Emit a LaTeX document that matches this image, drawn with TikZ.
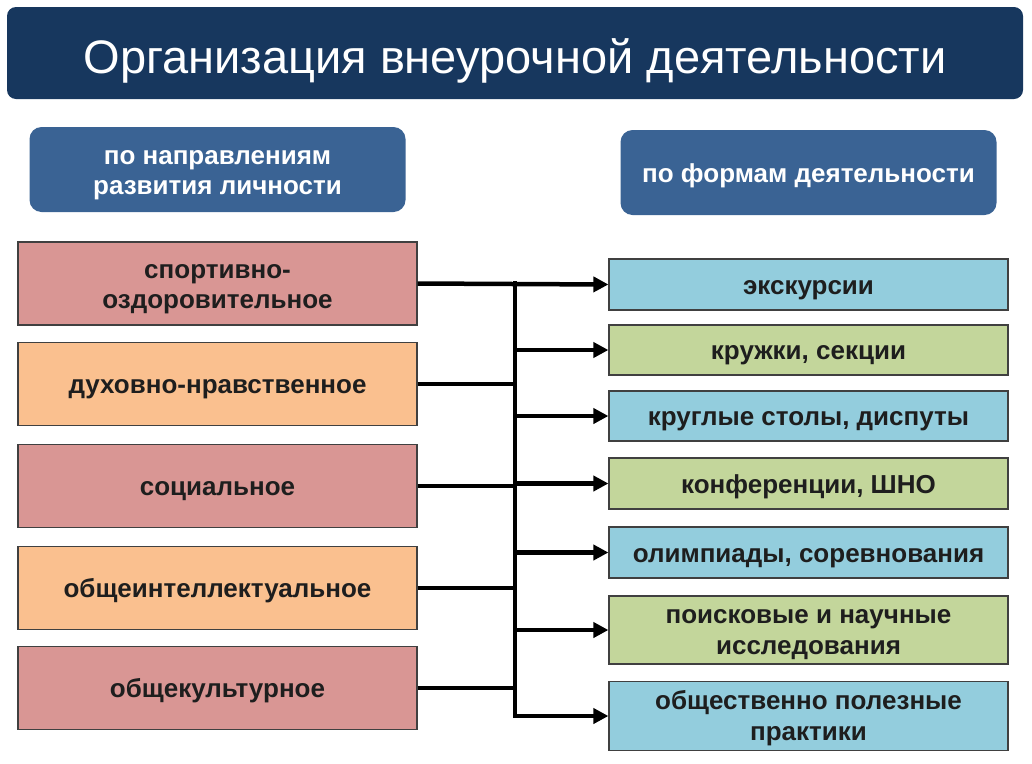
\documentclass[tikz,border=0pt]{standalone}
\usepackage{fontspec}
\setmainfont{Liberation Sans}
\usetikzlibrary{arrows.meta}
\definecolor{navy}{HTML}{17375E}
\definecolor{hdr}{HTML}{3A6394}
\definecolor{pinkc}{HTML}{D99694}
\definecolor{peachc}{HTML}{FAC08F}
\definecolor{bluec}{HTML}{93CDDD}
\definecolor{greenc}{HTML}{C3D69B}
\definecolor{txt}{HTML}{1E1E1E}
\tikzset{
  titlebox/.style={fill=navy, rounded corners=9pt, minimum width=1016pt, minimum height=92pt, inner sep=0pt},
  titletext/.style={text=white, font=\fontsize{47}{52}\selectfont, inner sep=0pt},
  oneline/.style={text height=22pt, text depth=3pt},
  twoline/.style={text height=52pt, text depth=3pt},
  hdrbox/.style={fill=hdr, rounded corners=12pt, minimum width=376pt, minimum height=85pt, text=white, font=\bfseries\fontsize{26}{30}\selectfont, align=center, inner sep=0pt, oneline},
  lbox/.style={draw=black!75, line width=1.2pt, minimum width=399pt, minimum height=83pt, text=txt, font=\bfseries\fontsize{26}{30}\selectfont, align=center, inner sep=0pt, oneline},
  rbox/.style={draw=black!75, line width=1.2pt, minimum width=399pt, text=txt, font=\bfseries\fontsize{26}{31}\selectfont, align=center, inner sep=0pt, oneline},
  conn/.style={line width=4.5pt, black},
  arr/.style={line width=4.5pt, black, -{Triangle[length=15pt,width=15pt]}}
}
\begin{document}
\begin{tikzpicture}[x=1pt,y=-1pt]
\useasboundingbox (0,0) rectangle (1032,763);
\node[titlebox] (title) at (515,53) {};
\node[titletext, anchor=base] (tt) at (515,73) {Организация внеурочной деятельности};
\node[hdrbox, twoline] (h1) at (217.5,169.5) {по направлениям\\развития личности};
\node[hdrbox] (h2) at (808.5,172.5) {по формам деятельности};

\node[lbox, fill=pinkc, twoline] (l1) at (217.5,283.5) {спортивно-\\оздоровительное};
\node[lbox, fill=peachc] (l2) at (217.5,384) {духовно-нравственное};
\node[lbox, fill=pinkc] (l3) at (217.5,486) {социальное};
\node[lbox, fill=peachc] (l4) at (217.5,588) {общеинтеллектуальное};
\node[lbox, fill=pinkc] (l5) at (217.5,688) {общекультурное};

\node[rbox, fill=bluec, minimum height=51pt] (r1) at (808.5,284.5) {экскурсии};
\node[rbox, fill=greenc, minimum height=50pt] (r2) at (808.5,350) {кружки, секции};
\node[rbox, fill=bluec, minimum height=50pt] (r3) at (808.5,416) {круглые столы, диспуты};
\node[rbox, fill=greenc, minimum height=51pt] (r4) at (808.5,483.5) {конференции, ШНО};
\node[rbox, fill=bluec, minimum height=51pt] (r5) at (808.5,552.5) {олимпиады, соревнования};
\node[rbox, fill=greenc, minimum height=68pt, twoline] (r6) at (808.5,630) {поисковые и научные\\исследования};
\node[rbox, fill=bluec, minimum height=69pt, twoline] (r7) at (808.5,716) {общественно полезные\\практики};

\coordinate (bt) at (515,283.5);
\coordinate (bb) at (515,716);
\draw[conn, line cap=rect] (bt) -- (bb);
\draw[arr] (l1.east) -- (r1.west);
\foreach \i in {2,3,4,5}{\draw[conn] (l\i.east) -- (l\i.east -| bt);}
\foreach \i in {2,3,4,5,6,7}{\draw[arr] (r\i.west -| bt) -- (r\i.west);}
\end{tikzpicture}
\end{document}
